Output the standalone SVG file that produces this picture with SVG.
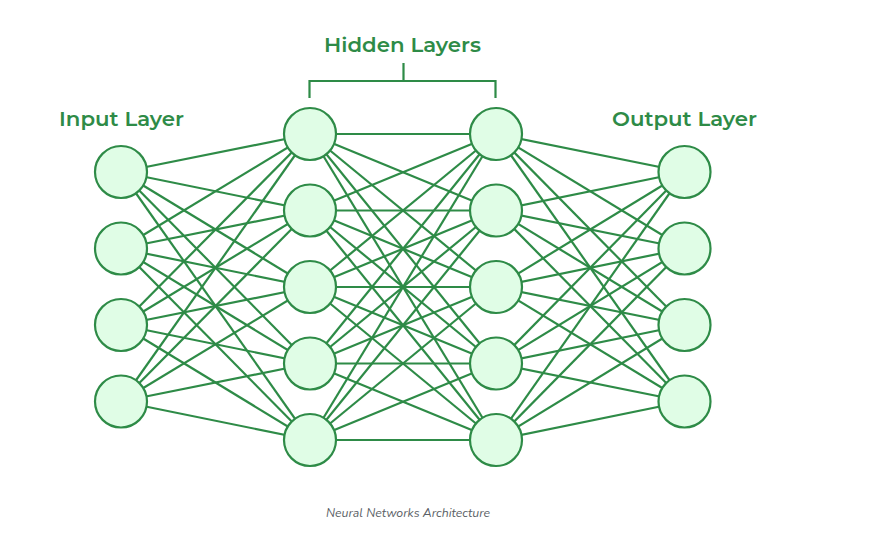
<svg xmlns="http://www.w3.org/2000/svg" width="869" height="542" viewBox="0 0 869 542">
<style>
.bg{fill:#ffffff}
.conn line{stroke:#2e8b47;stroke-width:2.2;fill:none}
.node circle{fill:#e0fde6;stroke:#2e8b47;stroke-width:2.2}
.bracket{stroke:#2e8b47;stroke-width:2.2;fill:none}
.title{font-family:"Montserrat","Open Sans","Liberation Sans",sans-serif;font-weight:600;font-size:20.5px;fill:#2e8b47}
.caption{font-family:"Nunito","Open Sans","Liberation Sans",sans-serif;font-style:italic;font-size:11px;fill:#5b5f66}
</style>
<rect class="bg" x="0" y="0" width="869" height="542"/>
<g id="connectors" class="conn">
<!-- input to hidden1 -->
<line x1="121" y1="172" x2="310" y2="134"/><line x1="121" y1="172" x2="310" y2="210.5"/><line x1="121" y1="172" x2="310" y2="287"/><line x1="121" y1="172" x2="310" y2="363.5"/><line x1="121" y1="172" x2="310" y2="440"/>
<line x1="121" y1="248.5" x2="310" y2="134"/><line x1="121" y1="248.5" x2="310" y2="210.5"/><line x1="121" y1="248.5" x2="310" y2="287"/><line x1="121" y1="248.5" x2="310" y2="363.5"/><line x1="121" y1="248.5" x2="310" y2="440"/>
<line x1="121" y1="325" x2="310" y2="134"/><line x1="121" y1="325" x2="310" y2="210.5"/><line x1="121" y1="325" x2="310" y2="287"/><line x1="121" y1="325" x2="310" y2="363.5"/><line x1="121" y1="325" x2="310" y2="440"/>
<line x1="121" y1="401.5" x2="310" y2="134"/><line x1="121" y1="401.5" x2="310" y2="210.5"/><line x1="121" y1="401.5" x2="310" y2="287"/><line x1="121" y1="401.5" x2="310" y2="363.5"/><line x1="121" y1="401.5" x2="310" y2="440"/>
<!-- hidden1 to hidden2 -->
<line x1="310" y1="134" x2="496" y2="134"/><line x1="310" y1="134" x2="496" y2="210.5"/><line x1="310" y1="134" x2="496" y2="287"/><line x1="310" y1="134" x2="496" y2="363.5"/><line x1="310" y1="134" x2="496" y2="440"/>
<line x1="310" y1="210.5" x2="496" y2="134"/><line x1="310" y1="210.5" x2="496" y2="210.5"/><line x1="310" y1="210.5" x2="496" y2="287"/><line x1="310" y1="210.5" x2="496" y2="363.5"/><line x1="310" y1="210.5" x2="496" y2="440"/>
<line x1="310" y1="287" x2="496" y2="134"/><line x1="310" y1="287" x2="496" y2="210.5"/><line x1="310" y1="287" x2="496" y2="287"/><line x1="310" y1="287" x2="496" y2="363.5"/><line x1="310" y1="287" x2="496" y2="440"/>
<line x1="310" y1="363.5" x2="496" y2="134"/><line x1="310" y1="363.5" x2="496" y2="210.5"/><line x1="310" y1="363.5" x2="496" y2="287"/><line x1="310" y1="363.5" x2="496" y2="363.5"/><line x1="310" y1="363.5" x2="496" y2="440"/>
<line x1="310" y1="440" x2="496" y2="134"/><line x1="310" y1="440" x2="496" y2="210.5"/><line x1="310" y1="440" x2="496" y2="287"/><line x1="310" y1="440" x2="496" y2="363.5"/><line x1="310" y1="440" x2="496" y2="440"/>
<!-- hidden2 to output -->
<line x1="496" y1="134" x2="684.5" y2="172"/><line x1="496" y1="134" x2="684.5" y2="248.5"/><line x1="496" y1="134" x2="684.5" y2="325"/><line x1="496" y1="134" x2="684.5" y2="401.5"/>
<line x1="496" y1="210.5" x2="684.5" y2="172"/><line x1="496" y1="210.5" x2="684.5" y2="248.5"/><line x1="496" y1="210.5" x2="684.5" y2="325"/><line x1="496" y1="210.5" x2="684.5" y2="401.5"/>
<line x1="496" y1="287" x2="684.5" y2="172"/><line x1="496" y1="287" x2="684.5" y2="248.5"/><line x1="496" y1="287" x2="684.5" y2="325"/><line x1="496" y1="287" x2="684.5" y2="401.5"/>
<line x1="496" y1="363.5" x2="684.5" y2="172"/><line x1="496" y1="363.5" x2="684.5" y2="248.5"/><line x1="496" y1="363.5" x2="684.5" y2="325"/><line x1="496" y1="363.5" x2="684.5" y2="401.5"/>
<line x1="496" y1="440" x2="684.5" y2="172"/><line x1="496" y1="440" x2="684.5" y2="248.5"/><line x1="496" y1="440" x2="684.5" y2="325"/><line x1="496" y1="440" x2="684.5" y2="401.5"/>
</g>
<g id="input-layer" class="node">
<circle id="in1" cx="121" cy="172" r="26"/>
<circle id="in2" cx="121" cy="248.5" r="26"/>
<circle id="in3" cx="121" cy="325" r="26"/>
<circle id="in4" cx="121" cy="401.5" r="26"/>
</g>
<g id="hidden-layer-1" class="node">
<circle id="h1a" cx="310" cy="134" r="26"/>
<circle id="h1b" cx="310" cy="210.5" r="26"/>
<circle id="h1c" cx="310" cy="287" r="26"/>
<circle id="h1d" cx="310" cy="363.5" r="26"/>
<circle id="h1e" cx="310" cy="440" r="26"/>
</g>
<g id="hidden-layer-2" class="node">
<circle id="h2a" cx="496" cy="134" r="26"/>
<circle id="h2b" cx="496" cy="210.5" r="26"/>
<circle id="h2c" cx="496" cy="287" r="26"/>
<circle id="h2d" cx="496" cy="363.5" r="26"/>
<circle id="h2e" cx="496" cy="440" r="26"/>
</g>
<g id="output-layer" class="node">
<circle id="out1" cx="684.5" cy="172" r="26"/>
<circle id="out2" cx="684.5" cy="248.5" r="26"/>
<circle id="out3" cx="684.5" cy="325" r="26"/>
<circle id="out4" cx="684.5" cy="401.5" r="26"/>
</g>
<g id="hidden-bracket">
<path class="bracket" d="M309.5 98 V81 H495.5 V98 M403.5 81 V63"/>
</g>
<g id="labels">
<text class="title" x="59" y="126" textLength="125" lengthAdjust="spacingAndGlyphs">Input Layer</text>
<text class="title" x="324" y="52" textLength="157" lengthAdjust="spacingAndGlyphs">Hidden Layers</text>
<text class="title" x="612" y="126" textLength="145" lengthAdjust="spacingAndGlyphs">Output Layer</text>
<text class="caption" x="326" y="517" textLength="164" lengthAdjust="spacingAndGlyphs">Neural Networks Architecture</text>
</g>
</svg>
